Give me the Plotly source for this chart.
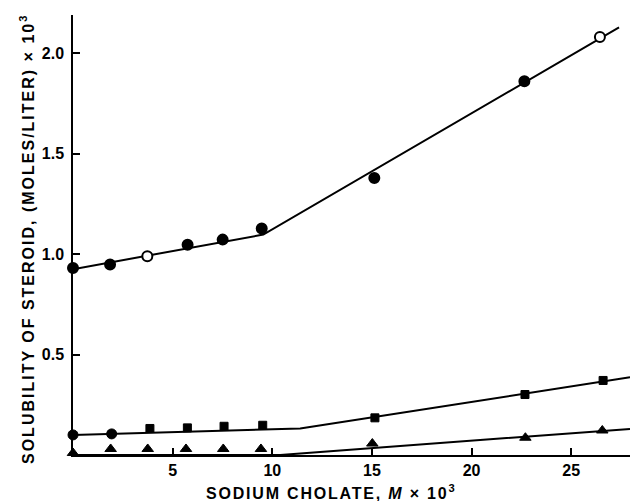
import plotly.graph_objects as go

# --- data ---
# upper series (circles)
circ_x = [0, 1.86, 3.73, 5.75, 7.51, 9.47, 15.12, 22.65, 26.44]
circ_y = [0.931, 0.948, 0.989, 1.047, 1.072, 1.127, 1.379, 1.86, 2.08]
circ_open = [False, False, True, False, False, False, False, False, True]

# middle series (squares; first two drawn as circles)
sq_x = [0, 1.94, 3.86, 5.74, 7.58, 9.52, 15.15, 22.68, 26.6]
sq_y = [0.10, 0.105, 0.132, 0.135, 0.143, 0.148, 0.185, 0.301, 0.371]
sq_sym = ["circle", "circle", "square", "square", "square", "square", "square", "square", "square"]

# lower series (triangles)
tri_x = [0, 1.89, 3.75, 5.67, 7.54, 9.43, 15.02, 22.7, 26.56]
tri_y = [0.01, 0.03, 0.03, 0.03, 0.03, 0.03, 0.057, 0.086, 0.122]

# fitted broken lines
fit1_x = [0, 9.55, 27.4]
fit1_y = [0.925, 1.097, 2.128]
fit2_x = [0, 11.4, 27.95]
fit2_y = [0.10, 0.132, 0.387]
fit3_x = [0, 10.4, 27.95]
fit3_y = [0.0, 0.0, 0.13]

x_ticks = [5, 10, 15, 20, 25]
x_tick_text = ["5", "10", "15", "20", "25"]
y_ticks = [0.5, 1.0, 1.5, 2.0]
y_tick_text = ["0.5", "1.0", "1.5", "2.0"]

x_title = '<span style="letter-spacing:1.8px">SODIUM CHOLATE, <i>M</i> × 10<sup>3</sup></span>'
y_title = '<span style="letter-spacing:2.0px">SOLUBILITY OF STEROID, (MOLES/LITER) × 10<sup>3</sup></span>'

fig = go.Figure()
for fx, fy in [(fit1_x, fit1_y), (fit2_x, fit2_y), (fit3_x, fit3_y)]:
    fig.add_trace(go.Scatter(x=fx, y=fy, mode="lines",
                             line=dict(color="black", width=2),
                             hoverinfo="skip", cliponaxis=False))

fig.add_trace(go.Scatter(
    x=circ_x, y=circ_y, mode="markers", cliponaxis=False,
    marker=dict(symbol="circle", size=10, opacity=1,
                color=["white" if o else "black" for o in circ_open],
                line=dict(color="black", width=2))))
fig.add_trace(go.Scatter(
    x=sq_x, y=sq_y, mode="markers", cliponaxis=False,
    marker=dict(symbol=sq_sym, size=[10, 10, 8, 8, 8, 8, 8, 8, 8], opacity=1,
                color="black", line=dict(color="black", width=1))))
fig.add_trace(go.Scatter(
    x=tri_x, y=tri_y, mode="markers", cliponaxis=False,
    marker=dict(symbol="triangle-up", size=10, opacity=1,
                color="black", line=dict(color="black", width=1))))

axis_common = dict(showline=True, linecolor="black", linewidth=1.5,
                   ticks="inside", ticklen=7, tickwidth=1.5, tickcolor="black",
                   showgrid=False, zeroline=False,
                   tickfont=dict(family="Liberation Sans, Arial, sans-serif",
                                 size=16, color="black", weight="bold"))

fig.update_layout(
    width=630, height=501,
    margin=dict(l=73, r=0, t=15, b=46),
    paper_bgcolor="white", plot_bgcolor="white",
    showlegend=False,
    xaxis=dict(range=[0, 27.95], tickvals=x_ticks, ticktext=x_tick_text,
               **axis_common),
    yaxis=dict(range=[0, 2.19], tickvals=y_ticks, ticktext=y_tick_text,
               ticklabelstandoff=4, **axis_common),
    annotations=[
        dict(text=x_title, xref="paper", yref="paper",
             x=(331 - 73) / 557, y=(455 - 492) / 440,
             xanchor="center", yanchor="middle", showarrow=False,
             font=dict(family="Liberation Sans, Arial, sans-serif",
                       size=16, color="black", weight="bold")),
        dict(text=y_title, xref="paper", yref="paper",
             x=(27 - 73) / 557, y=(455 - 239) / 440,
             xanchor="center", yanchor="middle", showarrow=False,
             textangle=-90,
             font=dict(family="Liberation Sans, Arial, sans-serif",
                       size=16, color="black", weight="bold")),
    ],
)

fig.write_html("out.html", config={"displayModeBar": False},
               post_script="document.body.style.margin='0';")
